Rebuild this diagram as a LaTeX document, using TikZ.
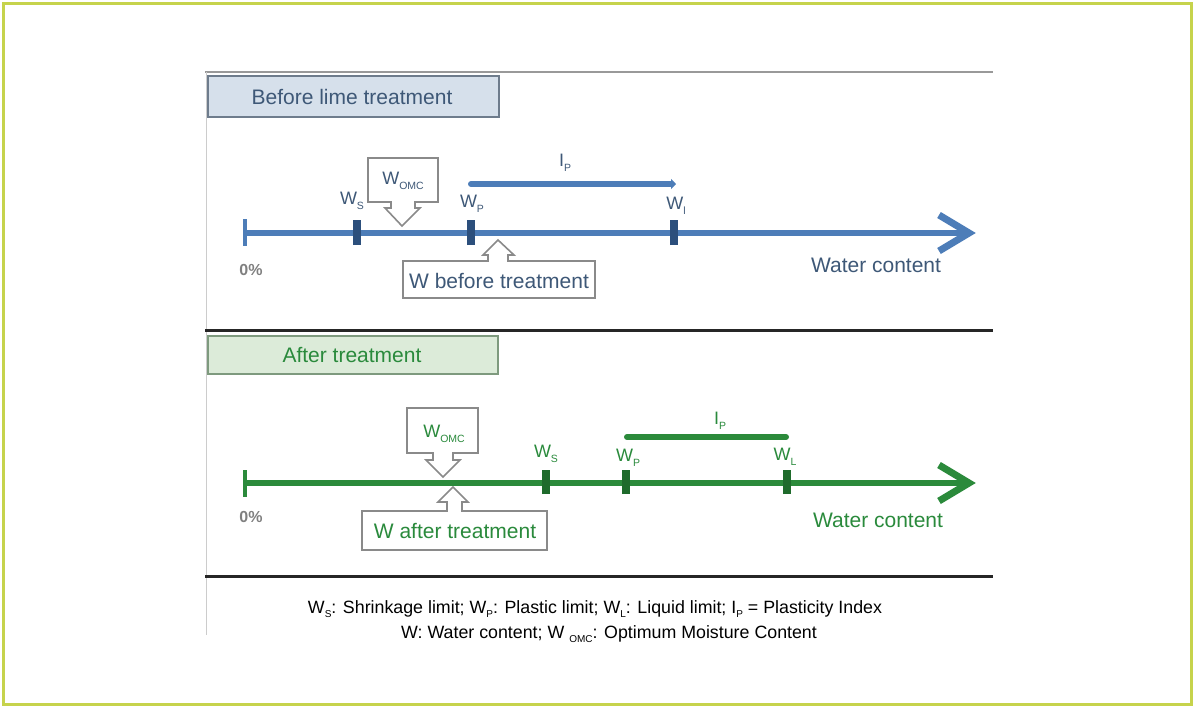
\documentclass[tikz,border=0pt]{standalone}
\usepackage{fontspec}
\setmainfont{Liberation Sans}
\newfontfamily\legendfont{Liberation Sans}
\usetikzlibrary{arrows.meta}
\definecolor{frame}{HTML}{C6D34C}
\definecolor{bluetxt}{HTML}{3E5877}
\definecolor{blueax}{HTML}{4D7DB8}
\definecolor{bluetick}{HTML}{2C4F7C}
\definecolor{bluebox}{HTML}{D6E0EB}
\definecolor{blueboxborder}{HTML}{6E7C8C}
\definecolor{greentxt}{HTML}{2A8A3C}
\definecolor{greenax}{HTML}{2B8A3B}
\definecolor{greentick}{HTML}{1F6B2C}
\definecolor{greenbox}{HTML}{DCEBD9}
\definecolor{greenboxborder}{HTML}{7E9A7E}
\definecolor{calloutborder}{HTML}{8A8A8A}
\newcommand\mysub[1]{\raisebox{-5pt}{\fontsize{10.5}{11}\selectfont #1}}
\begin{document}
\begin{tikzpicture}[x=1pt,y=-1pt,
  lbl/.style={inner sep=0pt, font=\fontsize{18}{20}\selectfont},
  big/.style={inner sep=0pt, font=\fontsize{21}{24}\selectfont},
  zero/.style={inner sep=0pt, font=\fontsize{16}{18}\selectfont\bfseries, text=black!50},
  axisline/.style={line width=6pt},
  chev/.style={line width=7pt, line join=miter, line cap=butt},
  tickmark/.style={line width=8pt},
  callout/.style={draw=calloutborder, line width=1.6pt, fill=white, line join=miter},
  sep/.style={draw=black!85, line width=3pt}
]
\useasboundingbox (0,0) rectangle (1194,707);
% outer frame
\draw[frame, line width=3pt] (3,3) rectangle (1191,704);
% panel lines
\draw[black!40, line width=1.2pt] (205,72) -- (993,72);
\draw[black!20, line width=1pt] (206,72) -- (206,635);
\draw[sep] (205,330) -- (993,330);
\draw[sep] (205,576) -- (993,576);

%%%%%%%%%%%%%%%% BEFORE %%%%%%%%%%%%%%%%
\node[draw=blueboxborder, fill=bluebox, line width=1.6pt, minimum width=291pt, minimum height=41pt, inner sep=0pt, anchor=north west] (boxb) at (207,75) {};
\node[big, text=bluetxt] (titleb) at (352,97) {Before lime treatment};

% axis
\coordinate (b0) at (245,233);
\coordinate (bend) at (966,233);
\draw[axisline, blueax] (b0) -- (bend);
\draw[chev, blueax] (939,215) -- (969,233) -- (939,251);
\draw[blueax, line width=4pt] (245,219) -- (245,246);
\coordinate (bs) at (357,233);
\coordinate (bp) at (471,233);
\coordinate (bl) at (674,233);
\draw[tickmark, bluetick] ([yshift=-12pt]bs) -- ([yshift=13pt]bs);
\draw[tickmark, bluetick] ([yshift=-12pt]bp) -- ([yshift=13pt]bp);
\draw[tickmark, bluetick] ([yshift=-12pt]bl) -- ([yshift=13pt]bl);

% I_P
\coordinate (bip0) at (471,184);
\coordinate (bip1) at (676,184);
\draw[blueax, line width=6pt, line cap=round, -{Triangle[length=5pt,width=10pt]}] (bip0) -- (bip1);
\node[lbl, text=bluetxt] (bip) at (565,163) {I\mysub{P}};

% labels
\node[lbl, text=bluetxt] (bws) at (352,201) {W\mysub{S}};
\node[lbl, text=bluetxt] (bwp) at (472,204) {W\mysub{P}};
\node[lbl, text=bluetxt] (bwl) at (676,206) {W\mysub{l}};
\node[zero] (bzero) at (251,270) {0\%};
\node[big, text=bluetxt] (bwater) at (876,265) {Water content};

% W_OMC callout (before)
\draw[callout] (368,158) -- (438,158) -- (438,202) -- (415,202) -- (415,208) -- (420,208)
  -- (402,226) -- (385,208) -- (391,208) -- (391,202) -- (368,202) -- cycle;
\node[lbl, text=bluetxt] (bomc) at (403,181) {W\mysub{OMC}};

% W before treatment callout
\draw[callout] (403,261) -- (488,261) -- (488,255) -- (483,255) -- (498,240) -- (514,255)
  -- (508,255) -- (508,261) -- (595,261) -- (595,298) -- (403,298) -- cycle;
\node[big, text=bluetxt] (bwbt) at (499,281) {W before treatment};

%%%%%%%%%%%%%%%% AFTER %%%%%%%%%%%%%%%%
\node[draw=greenboxborder, fill=greenbox, line width=1.6pt, minimum width=290pt, minimum height=38pt, inner sep=0pt, anchor=north west] (boxa) at (207,335) {};
\node[big, text=greentxt] (titlea) at (352,355) {After treatment};

\coordinate (a0) at (245,483);
\coordinate (aend) at (966,483);
\draw[axisline, greenax] (a0) -- (aend);
\draw[chev, greenax] (939,465) -- (969,483) -- (939,501);
\draw[greenax, line width=4pt] (245,470) -- (245,497);
\coordinate (as) at (546,483);
\coordinate (ap) at (626,483);
\coordinate (al) at (787,483);
\draw[tickmark, greentick] ([yshift=-11pt]as) -- ([yshift=13pt]as);
\draw[tickmark, greentick] ([yshift=-11pt]ap) -- ([yshift=13pt]ap);
\draw[tickmark, greentick] ([yshift=-11pt]al) -- ([yshift=13pt]al);

\coordinate (aip0) at (627,437);
\coordinate (aip1) at (786,437);
\draw[greenax, line width=6pt, line cap=round] (aip0) -- (aip1);
\node[lbl, text=greentxt] (aip) at (720,421) {I\mysub{P}};

\node[lbl, text=greentxt] (aws) at (546,454) {W\mysub{S}};
\node[lbl, text=greentxt] (awp) at (628,458) {W\mysub{P}};
\node[lbl, text=greentxt] (awl) at (785,457) {W\mysub{L}};
\node[zero] (azero) at (251,517) {0\%};
\node[big, text=greentxt] (awater) at (878,520) {Water content};

% W_OMC callout (after)
\draw[callout] (407,408) -- (478,408) -- (478,453) -- (453,453) -- (453,460) -- (460,460)
  -- (443,477) -- (426,460) -- (433,460) -- (433,453) -- (407,453) -- cycle;
\node[lbl, text=greentxt] (aomc) at (444,434) {W\mysub{OMC}};

% W after treatment callout
\draw[callout] (362,511) -- (447,511) -- (447,502) -- (438,502) -- (453,487) -- (468,502)
  -- (462,502) -- (462,511) -- (547,511) -- (547,550) -- (362,550) -- cycle;
\node[big, text=greentxt] (awat) at (455,531) {W after treatment};

%%%%%%%%%%%%%%%% LEGEND %%%%%%%%%%%%%%%%
\newcommand\lsub[1]{\raisebox{-3.5pt}{\fontsize{10}{10}\selectfont #1}}
\node[inner sep=0pt, font=\legendfont\fontsize{17.8}{19}\selectfont] (leg1) at (595,609)
  {W\lsub{S}: Shrinkage limit; W\lsub{P}: Plastic limit; W\lsub{L}: Liquid limit; I\lsub{P} = Plasticity Index};
\node[inner sep=0pt, font=\legendfont\fontsize{17.8}{19}\selectfont] (leg2) at (609,634)
  {W: Water content; W \lsub{OMC}: Optimum Moisture Content};
\end{tikzpicture}
\end{document}
